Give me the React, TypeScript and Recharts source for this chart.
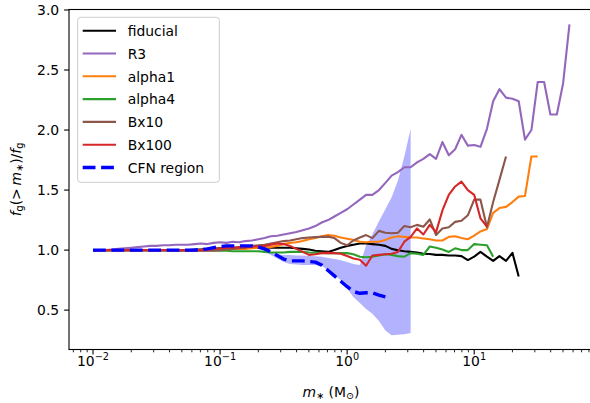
import React from "react";
import { ComposedChart, Line, Area, XAxis, YAxis } from "recharts";

// stellar mass bins (M_sun), 20 per decade
const masses = [
  0.01, 0.0112, 0.0126, 0.0141, 0.0158, 0.0178, 0.02, 0.0224, 0.0251, 0.0282,
  0.0316, 0.0355, 0.0398, 0.0447, 0.0501, 0.0562, 0.0631, 0.0708, 0.0794, 0.0891,
  0.1, 0.112, 0.126, 0.141, 0.158, 0.178, 0.2, 0.224, 0.251, 0.282,
  0.316, 0.355, 0.398, 0.447, 0.501, 0.562, 0.631, 0.708, 0.794, 0.891,
  1.0, 1.12, 1.26, 1.41, 1.58, 1.78, 2.0, 2.24, 2.51, 2.82,
  3.16, 3.55, 3.98, 4.47, 5.01, 5.62, 6.31, 7.08, 7.94, 8.91,
  10, 11.2, 12.6, 14.1, 15.8, 17.8, 20, 22.4, 25.1, 28.2,
  31.6, 35.5, 39.8, 44.7, 50.1, 56.2,
];

const fiducial = [
  1.0, 1.0, 1.0, 1.0, 1.0, 1.0, 1.0, 1.0, 1.0, 1.0,
  1.0, 1.0, 1.0, 1.0, 1.0, 1.0, 1.005, 1.005, 1.01, 1.01,
  1.015, 1.015, 1.02, 1.02, 1.02, 1.02, 1.02, 1.02, 1.02, 1.02,
  1.02, 1.02, 1.015, 1.01, 1.005, 0.995, 0.99, 0.985, 1.0, 1.02,
  1.035, 1.045, 1.055, 1.055, 1.05, 1.045, 1.035, 1.01, 0.998, 0.99,
  0.985, 0.98, 0.97, 0.967, 0.96, 0.96, 0.955, 0.955, 0.95, 0.917,
  0.945, 0.985, 0.945, 0.91, 0.95, 0.91, 0.977, 0.78,
];

const r3 = [
  1.0, 1.0, 1.0, 1.005, 1.01, 1.015, 1.02, 1.025, 1.03, 1.035,
  1.035, 1.04, 1.04, 1.045, 1.045, 1.045, 1.05, 1.055, 1.05, 1.06,
  1.065, 1.06, 1.07, 1.065, 1.075, 1.08, 1.09, 1.1, 1.115, 1.12,
  1.13, 1.14, 1.15, 1.165, 1.18, 1.2, 1.23, 1.25, 1.28, 1.31,
  1.34, 1.38, 1.42, 1.46, 1.46, 1.5, 1.56, 1.62, 1.65, 1.69,
  1.69, 1.73, 1.76, 1.8, 1.76, 1.9, 1.79, 1.84, 1.96, 1.87,
  1.875, 1.86, 2.01, 2.24, 2.34, 2.27, 2.26, 2.24, 1.92, 2.0,
  2.4, 2.4, 2.13, 2.13, 2.39, 2.88,
];

const alpha1 = [
  1.0, 1.0, 1.0, 1.0, 1.0, 1.0, 1.0, 1.0, 1.0, 1.0,
  1.0, 1.0, 1.0, 1.0, 1.0, 1.0, 1.0, 1.0, 1.0, 1.005,
  1.005, 1.01, 1.01, 1.01, 1.01, 1.015, 1.02, 1.02, 1.025, 1.035,
  1.05, 1.06, 1.065, 1.075, 1.09, 1.1, 1.115, 1.125, 1.12, 1.105,
  1.095, 1.085, 1.07, 1.065, 1.07, 1.07, 1.085, 1.105, 1.115, 1.11,
  1.105, 1.105, 1.097, 1.09, 1.08, 1.08, 1.11, 1.115, 1.1, 1.09,
  1.12, 1.155, 1.175, 1.31, 1.35, 1.36, 1.4, 1.445, 1.45, 1.78,
  1.78,
];

const alpha4 = [
  1.0, 1.0, 1.0, 1.0, 1.0, 1.0, 1.0, 1.0, 1.0, 1.0,
  1.0, 1.0, 1.0, 1.0, 1.0, 1.0, 1.0, 1.0, 1.0, 0.998,
  0.995, 0.995, 0.99, 0.99, 0.99, 0.99, 0.99, 0.985, 0.98, 0.98,
  0.98, 0.985, 0.985, 0.985, 0.98, 0.978, 0.977, 0.975, 0.975, 0.975,
  0.975, 0.965, 0.945, 0.94, 0.945, 0.955, 0.965, 0.96, 0.95, 0.945,
  0.975, 0.97, 0.96, 1.03, 1.02, 1.005, 0.985, 1.015, 1.0, 1.0,
  1.05, 1.045, 1.04, 0.945,
];

const bx10 = [
  1.0, 1.0, 1.0, 1.0, 1.0, 1.0, 1.0, 1.0, 1.0, 1.0,
  1.0, 1.0, 1.0, 1.0, 0.995, 0.995, 0.995, 0.995, 0.995, 0.995,
  1.0, 1.005, 1.01, 1.015, 1.02, 1.035, 1.04, 1.045, 1.055, 1.065,
  1.075, 1.08, 1.09, 1.1, 1.105, 1.108, 1.11, 1.112, 1.1, 1.06,
  1.04, 1.08, 1.105, 1.125, 1.1, 1.16, 1.145, 1.14, 1.145, 1.2,
  1.19, 1.21, 1.195, 1.255, 1.125, 1.18, 1.19, 1.235, 1.245, 1.29,
  1.42, 1.42, 1.19, 1.4, 1.585, 1.78,
];

const bx100 = [
  1.0, 1.0, 1.0, 1.0, 1.0, 1.0, 1.0, 1.0, 1.0, 1.0,
  1.0, 1.0, 1.0, 1.0, 1.0, 1.0, 1.0, 1.0, 1.005, 1.01,
  1.015, 1.02, 1.02, 1.025, 1.025, 1.03, 1.03, 1.035, 1.045, 1.055,
  1.05, 1.035, 1.01, 0.985, 0.96, 0.965, 0.975, 0.977, 0.975, 0.97,
  0.95, 0.93, 0.92, 0.87, 0.955, 0.96, 0.965, 0.97, 0.985, 1.07,
  1.11, 1.18, 1.13, 1.21, 1.15, 1.33, 1.46, 1.53, 1.57, 1.5,
  1.46, 1.265, 1.195,
];

const cfn = [
  1.0, 1.0, 1.0, 1.0, 1.0, 1.0, 1.0, 1.0, 1.0, 1.0,
  1.0, 1.0, 1.0, 1.0, 1.0, 1.0, 1.0, 1.005, 1.01, 1.02,
  1.03, 1.035, 1.035, 1.035, 1.035, 1.035, 1.025, 1.01, 0.985, 0.955,
  0.925, 0.91, 0.91, 0.91, 0.905, 0.9, 0.875, 0.83, 0.785, 0.74,
  0.695, 0.655, 0.64, 0.645, 0.645, 0.625, 0.61,
];

// CFN spread, starting at mass bin BAND_FROM (0.2 M_sun)
const BAND_FROM = 26;
const bandLow = [
  1.02, 0.99, 0.96, 0.93, 0.9, 0.885, 0.88, 0.875, 0.875, 0.875,
  0.87, 0.83, 0.79, 0.75, 0.68, 0.61, 0.56, 0.51, 0.47, 0.41,
  0.33, 0.29, 0.295, 0.3, 0.31,
];
const bandHigh = [
  1.03, 1.0, 0.98, 0.965, 0.96, 0.96, 0.955, 0.955, 0.95, 0.948,
  0.945, 0.935, 0.925, 0.915, 0.9, 0.885, 0.875, 1.04, 1.13, 1.24,
  1.34, 1.44, 1.58, 1.78, 2.01,
];

const seriesKeys = ["fiducial", "r3", "alpha1", "alpha4", "bx10", "bx100", "cfn"];
const seriesLabels = ["fiducial", "R3", "alpha1", "alpha4", "Bx10", "Bx100", "CFN region"];
const seriesColors = ["#000000", "#9467bd", "#ff7f0e", "#2ca02c", "#8c564b", "#d62728", "#0000ff"];
const seriesValues = [fiducial, r3, alpha1, alpha4, bx10, bx100, cfn];

const xMajor = [0.01, 0.1, 1, 10];
const xMinor = [
  0.007, 0.008, 0.009,
  0.02, 0.03, 0.04, 0.05, 0.06, 0.07, 0.08, 0.09,
  0.2, 0.3, 0.4, 0.5, 0.6, 0.7, 0.8, 0.9,
  2, 3, 4, 5, 6, 7, 8, 9,
  20, 30, 40, 50, 60, 70, 80,
];
const xMajorLabels = ["\u22122", "\u22121", "0", "1"];
const yTicks = [0.5, 1.0, 1.5, 2.0, 2.5, 3.0];

const rows = masses.map((m, i) => {
  const row: Record<string, unknown> = { m };
  seriesKeys.forEach((k, s) => {
    row[k] = seriesValues[s][i];
  });
  const j = i - BAND_FROM;
  row.band = j >= 0 && j < bandLow.length ? [bandLow[j], bandHigh[j]] : undefined;
  return row;
});

const W = 600;
const H = 403;
const LEFT = 69;
const RIGHT = 593;
const TOP = 9.5;
const BOTTOM = 349.5;
const FONT = "DejaVu Sans";
const FS = 13.9;

function XTick(props: any) {
  const { x, y, payload } = props;
  const idx = xMajor.indexOf(payload.value);
  const major = idx >= 0;
  return (
    <g>
      <line x1={x} x2={x} y1={y} y2={y + (major ? 4.9 : 2.8)} stroke="#000" strokeWidth={major ? 1.1 : 0.85} />
      {major && (
        <text x={x} y={y + 16.8} textAnchor="middle" fontFamily={FONT} fontSize={FS} fill="#000">
          10<tspan dy={-6} fontSize={9.7}>{xMajorLabels[idx]}</tspan>
        </text>
      )}
    </g>
  );
}

function YTick(props: any) {
  const { x, y, payload } = props;
  return (
    <text x={x} y={y + 5} textAnchor="end" fontFamily={FONT} fontSize={FS} fill="#000">
      {payload.value.toFixed(1)}
    </text>
  );
}

function Overlay() {
  const rowH = 22.8;
  return (
    <svg width={W} height={H} style={{ position: "absolute", left: 0, top: 0, pointerEvents: "none" }}>
      <rect x={LEFT} y={TOP} width={RIGHT - LEFT} height={BOTTOM - TOP} fill="none" stroke="#000" strokeWidth={1.1} />
      <text
        transform={`translate(20.5,${(TOP + BOTTOM) / 2}) rotate(-90)`}
        textAnchor="middle"
        fontFamily={FONT}
        fontSize={FS}
        fill="#000"
      >
        <tspan fontStyle="italic">f</tspan>
        <tspan fontSize={9.7} dy={2.5}>g</tspan>
        <tspan dy={-2.5}>(&gt;{"\u2009"}</tspan>
        <tspan fontStyle="italic">m</tspan>
        <tspan fontSize={9.7} dy={2.5}>{"\u2217"}</tspan>
        <tspan dy={-2.5}>)/</tspan>
        <tspan fontStyle="italic">f</tspan>
        <tspan fontSize={9.7} dy={2.5}>g</tspan>
      </text>
      <text x={(LEFT + RIGHT) / 2} y={396.5} textAnchor="middle" fontFamily={FONT} fontSize={FS} fill="#000">
        <tspan fontStyle="italic">m</tspan>
        <tspan fontSize={9.7} dy={2.5}>{"\u2217"}</tspan>
        <tspan dy={-2.5}>{" (M"}</tspan>
        <tspan fontSize={9.7} dy={2.5}>{"\u2299"}</tspan>
        <tspan dy={-2.5}>)</tspan>
      </text>
      <rect x={77.7} y={17.3} width={141.6} height={165} rx={3} fill="#fff" fillOpacity={0.8} stroke="#cccccc" strokeWidth={1} />
      {seriesLabels.map((label, i) => {
        const cy = 30.7 + i * rowH;
        const dashed = seriesKeys[i] === "cfn";
        return (
          <g key={label}>
            <line
              x1={82.7}
              x2={116}
              y1={cy}
              y2={cy}
              stroke={seriesColors[i]}
              strokeWidth={dashed ? 3.4 : 2.1}
              strokeDasharray={dashed ? "12.8 5.6" : undefined}
            />
            <text x={127.7} y={cy + 5.2} fontFamily={FONT} fontSize={FS} fill="#000">
              {label}
            </text>
          </g>
        );
      })}
    </svg>
  );
}

export default function App() {
  return (
    <div style={{ position: "absolute", left: 0, top: 0, width: 590, height: 403, overflow: "hidden", background: "#fff" }}>
      <div style={{ position: "relative", width: W, height: H }}>
        <ComposedChart
          width={W}
          height={H}
          data={rows}
          margin={{ top: TOP, right: W - RIGHT, bottom: H - BOTTOM - 40, left: 0 }}
        >
          <XAxis
            dataKey="m"
            type="number"
            scale="log"
            domain={[0.006471, 86.1]}
            allowDataOverflow
            ticks={[...xMinor, ...xMajor]}
            interval={0}
            tick={<XTick />}
            tickLine={false}
            tickSize={0}
            tickMargin={0}
            axisLine={false}
            height={40}
          />
          <YAxis
            type="number"
            domain={[0.172, 3.004]}
            allowDataOverflow
            ticks={yTicks}
            interval={0}
            tick={<YTick />}
            tickLine={{ stroke: "#000", strokeWidth: 1.1 }}
            tickSize={4.9}
            tickMargin={4.9}
            axisLine={false}
            width={LEFT}
          />
          <Area
            dataKey="band"
            type="linear"
            stroke="none"
            fill="#0000ff"
            fillOpacity={0.3}
            isAnimationActive={false}
            dot={false}
            activeDot={false}
          />
          {seriesKeys.map((k, i) => (
            <Line
              key={k}
              dataKey={k}
              type="linear"
              stroke={seriesColors[i]}
              strokeWidth={k === "cfn" ? 3.4 : 2.1}
              strokeDasharray={k === "cfn" ? "12.8 5.6" : undefined}
              strokeLinejoin="round"
              dot={false}
              activeDot={false}
              isAnimationActive={false}
            />
          ))}
        </ComposedChart>
        <Overlay />
      </div>
    </div>
  );
}
